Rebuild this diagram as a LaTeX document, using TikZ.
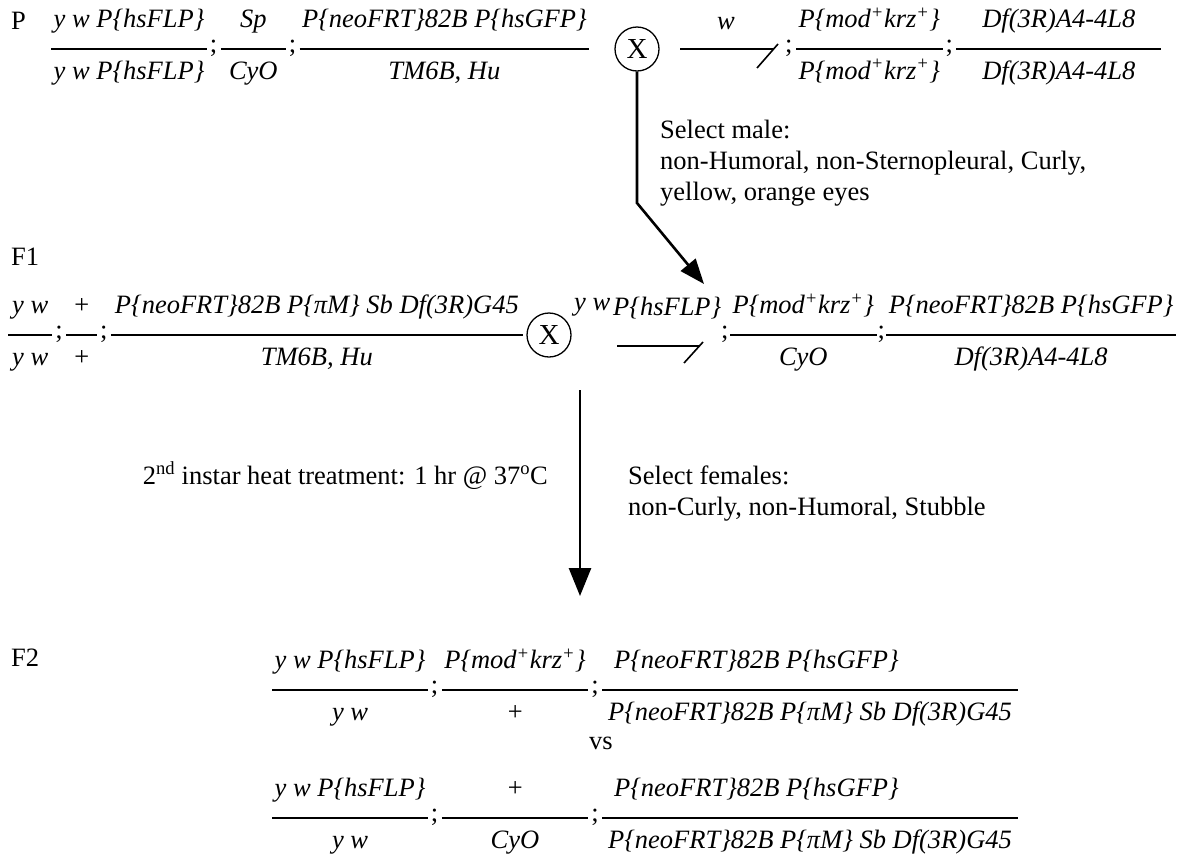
\documentclass[tikz,border=0pt]{standalone}
\usepackage{fontspec}
\setmainfont{Liberation Serif}
\usetikzlibrary{arrows.meta}
\newlength\numgap \setlength\numgap{11pt}
\newlength\dengap \setlength\dengap{7.5pt}
\newcommand\gfrcore[5]{%
  \begingroup
  \setbox0\hbox{\itshape\strut #2}%
  \setbox2\hbox{\itshape\strut #3}%
  \setbox4\hbox{\itshape #1}%
  \dimen0=\wd0
  \ifdim\wd2>\dimen0 \dimen0=\wd2 \fi
  \ifdim\wd4>\dimen0 \dimen0=\wd4 \fi
  \advance\dimen0 by #4\relax
  \vbox{\hbox to\dimen0{#5\box0\hss}\kern\numgap\hrule height1.6pt\kern\dengap\hbox to\dimen0{\hss\box2\hss}}%
  \endgroup}
\newcommand\gfr[3][]{\gfrcore{#1}{#2}{#3}{5pt}{\hss}}
\newcommand\gfrw[3][]{\gfrcore{#1}{#2}{#3}{8pt}{\hss}}
\newcommand\gfrl[3][]{\gfrcore{#1}{#2}{#3}{12pt}{\kern12pt}}
\newcommand\sem{\kern3pt\raisebox{27pt}{;}\kern3.5pt}
\newcommand\semt{\kern1pt\raisebox{27pt}{;}\kern1.5pt}
\newcommand\modk{P\{mod\textsuperscript{+}krz\textsuperscript{+}\}}
\begin{document}
\begin{tikzpicture}[x=1pt,y=-1pt,
  every node/.style={inner sep=0pt, font=\fontsize{26.5}{31}\selectfont},
  geno/.style={anchor=base west},
  lab/.style={anchor=base west},
  note/.style={anchor=north west, align=left},
  cross/.style={draw, circle, line width=1.3pt, minimum size=44pt, inner sep=0pt, font=\fontsize{29}{30}\selectfont},
  hook/.style={line width=1.6pt},
  flow/.style={line width=2.6pt, -{Triangle[length=25pt,width=19pt]}},
  flowbig/.style={line width=2.6pt, -{Triangle[length=28pt,width=22pt]}}]
\useasboundingbox (0,0) rectangle (1177,860);
% ---------- P ----------
\node[lab] (Plab) at (11,29) {P};
\node[geno] (Pl) at (51,79) {\gfr{y w P\{hsFLP\}}{y w P\{hsFLP\}}\sem\gfr[\hspace{60pt}]{Sp}{CyO}\sem\gfr{P\{neoFRT\}82B P\{hsGFP\}}{TM6B, Hu}};
\node[cross] (x1) at (637,49) {X};
\node[anchor=base] (wP) at (726,29) {\itshape w};
\coordinate (h1a) at (680,49);
\coordinate (h1b) at (774,49);
\coordinate (h1c) at (778,44);
\coordinate (h1d) at (757,68);
\draw[hook] (h1a) -- (h1b);
\draw[hook] (h1c) -- (h1d);
\node[geno] (Pr) at (782,79) {\sem\gfr{\modk}{\modk}\sem\gfr[\hspace{200pt}]{Df(3R)A4-4L8}{Df(3R)A4-4L8}};
% selection note 1
\node[note] (sel1) at (660,120) {Select male:\\non-Humoral, non-Sternopleural, Curly,\\yellow, orange eyes};
\coordinate (bend1) at (637,203);
\coordinate (tip1) at (704,284);
\draw[flow] (x1.south) -- (bend1) -- (tip1);
% ---------- F1 ----------
\node[lab] (F1lab) at (11,265) {F1};
\node[geno] (F1l) at (8,365) {\gfrw{y w}{y w}\sem\gfr[\hspace{26pt}]{+}{+}\sem\gfrw{P\{neoFRT\}82B P\{πM\} Sb Df(3R)G45}{TM6B, Hu}};
\node[cross] (x2) at (549,335) {X};
\node[lab] (ywm) at (574,310) {\itshape y w};
\node[lab] (hsm) at (613,315) {\itshape P\{hsFLP\}};
\coordinate (h2a) at (617,346);
\coordinate (h2b) at (699,346);
\coordinate (h2c) at (703,342);
\coordinate (h2d) at (684,363);
\draw[hook] (h2a) -- (h2b);
\draw[hook] (h2c) -- (h2d);
\node[geno] (F1r) at (720,365) {\semt\gfr{\modk}{CyO}\semt\gfr{P\{neoFRT\}82B P\{hsGFP\}}{Df(3R)A4-4L8}};
% arrow 2
\coordinate (top2) at (580,390);
\coordinate (tip2) at (580,596);
\draw[flowbig] (top2) -- (tip2);
\node[anchor=base east] (heat) at (548,484) {2\textsuperscript{nd} instar heat treatment: 1 hr @ 37\textsuperscript{o}C};
\node[note] (sel2) at (628,466) {Select females:\\non-Curly, non-Humoral, Stubble};
% ---------- F2 ----------
\node[lab] (F2lab) at (11,666) {F2};
\node[geno] (F2a) at (272,720) {\gfr{y w P\{hsFLP\}}{y w}\sem\gfr[\modk]{\modk}{+}\sem\gfrl{P\{neoFRT\}82B P\{hsGFP\}}{P\{neoFRT\}82B P\{πM\} Sb Df(3R)G45}};
\node[anchor=base] (vs) at (601,749) {vs};
\node[geno] (F2b) at (272,848) {\gfr{y w P\{hsFLP\}}{y w}\sem\gfr[\modk]{+}{CyO}\sem\gfrl{P\{neoFRT\}82B P\{hsGFP\}}{P\{neoFRT\}82B P\{πM\} Sb Df(3R)G45}};
\end{tikzpicture}
\end{document}
